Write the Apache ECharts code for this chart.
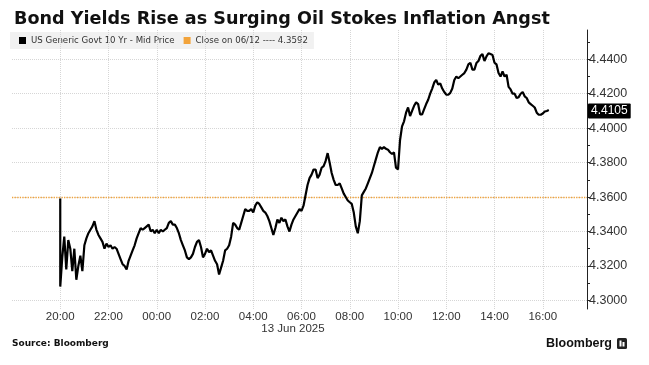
<!DOCTYPE html>
<html><head><meta charset="utf-8">
<script src="https://cdn.jsdelivr.net/npm/echarts@6/dist/echarts.min.js"></script>
<style>html,body{margin:0;padding:0;background:#fff}#c{width:649px;height:365px}</style>
</head><body><div id="c"></div>
<script>
const titleText = 'Bond Yields Rise as Surging Oil Stokes Inflation Angst';
const seriesName = 'US Generic Govt 10 Yr - Mid Price';
const closeName = 'Close on 06/12 ---- 4.3592';
const prevClose = 4.3592;
const lastValue = 4.4105;
const yLabelValues = [4.30, 4.32, 4.34, 4.36, 4.38, 4.40, 4.42, 4.44];
const yTickValues = [4.30, 4.31, 4.32, 4.33, 4.34, 4.35, 4.36, 4.37, 4.38, 4.39, 4.40, 4.41, 4.42, 4.43, 4.44, 4.45];
const xGridHours = ['06-12 20:00', '06-12 22:00', '06-13 00:00', '06-13 02:00', '06-13 04:00', '06-13 06:00', '06-13 08:00', '06-13 10:00', '06-13 12:00', '06-13 14:00', '06-13 16:00'];
const dateCaption = '13 Jun 2025';
const sourceText = 'Source: Bloomberg';
const startTime = '06-12 20:00';
const stepMinutes = 5;
// 5-minute prints from 20:00 (12 Jun) to 16:15 (13 Jun)
const yields = [
4.308,4.325,4.337,4.318,4.335,4.330,4.317,4.330,4.312,4.320,4.326,4.317,
4.332,4.336,4.339,4.341,4.343,4.346,4.341,4.338,4.336,4.334,4.330,4.333,
4.331,4.332,4.330,4.331,4.330,4.327,4.324,4.321,4.320,4.318,4.323,4.326,
4.329,4.332,4.336,4.339,4.342,4.341,4.342,4.343,4.344,4.340,4.341,4.339,
4.341,4.339,4.341,4.340,4.341,4.342,4.345,4.346,4.344,4.344,4.342,4.339,
4.335,4.332,4.329,4.325,4.324,4.325,4.327,4.331,4.334,4.335,4.331,4.325,
4.327,4.330,4.328,4.329,4.326,4.323,4.321,4.315,4.319,4.323,4.329,4.330,
4.332,4.337,4.345,4.344,4.342,4.341,4.345,4.349,4.353,4.352,4.352,4.353,
4.351,4.355,4.357,4.356,4.354,4.352,4.351,4.349,4.346,4.342,4.338,4.342,
4.347,4.345,4.348,4.346,4.347,4.343,4.340,4.344,4.347,4.349,4.351,4.353,
4.352,4.355,4.361,4.367,4.371,4.373,4.376,4.376,4.371,4.373,4.377,4.378,
4.381,4.3855,4.380,4.374,4.370,4.367,4.367,4.368,4.365,4.362,4.360,4.358,
4.357,4.356,4.351,4.343,4.339,4.346,4.361,4.363,4.365,4.368,4.371,4.374,
4.378,4.382,4.386,4.389,4.388,4.389,4.388,4.3875,4.386,4.385,4.386,4.377,
4.376,4.393,4.401,4.404,4.409,4.412,4.407,4.410,4.413,4.415,4.414,4.408,
4.408,4.411,4.414,4.4165,4.420,4.423,4.4265,4.428,4.4253,4.426,4.423,4.421,
4.4195,4.4194,4.4205,4.423,4.428,4.430,4.429,4.430,4.431,4.432,4.434,4.437,
4.438,4.434,4.434,4.4378,4.439,4.442,4.443,4.439,4.4417,4.4435,4.443,4.4425,
4.438,4.437,4.432,4.430,4.433,4.430,4.431,4.424,4.4225,4.420,4.420,4.4175,
4.418,4.420,4.421,4.4185,4.4175,4.415,4.414,4.413,4.412,4.409,4.4078,4.4078,
4.4085,4.4097,4.410,4.4105
];

function ts(s) { // 'MM-DD HH:mm' in 2025
  const [d, t] = s.split(' ');
  const [mo, da] = d.split('-').map(Number);
  const [h, mi] = t.split(':').map(Number);
  return new Date(2025, mo - 1, da, h, mi).getTime();
}
const t0 = ts(startTime);
const seriesData = [[t0, prevClose]].concat(yields.map((v, i) => [t0 + i * stepMinutes * 60000, v]));
const xMin = ts('06-12 18:00');
const xMax = ts('06-13 17:50');
const font = 'Liberation Sans';
const gridColor = '#d6d6d6';

const chart = echarts.init(document.getElementById('c'), null, {renderer: 'canvas'});
chart.setOption({
  animation: false,
  backgroundColor: '#fff',
  textStyle: {fontFamily: font},
  title: {text: titleText, left: 9, top: 5,
    textStyle: {fontSize: 17.6, fontWeight: 'bold', color: '#111', fontFamily: 'DejaVu Sans'}},
  legend: {
    left: 10, top: 32, padding: [4, 6, 4, 9], itemGap: 9,
    icon: 'rect', itemWidth: 7, itemHeight: 7,
    backgroundColor: '#f1f1f1',
    textStyle: {fontSize: 8.6, color: '#333', fontFamily: 'DejaVu Sans'},
    data: [seriesName, closeName]
  },
  grid: {left: 12, right: 62, top: 30, bottom: 56, containLabel: false},
  xAxis: {
    type: 'time', min: xMin, max: xMax,
    minInterval: 7200000, maxInterval: 7200000,
    axisLine: {show: false}, axisTick: {show: false}, splitLine: {show: false},
    axisLabel: {
      color: '#333', fontSize: 11.5, margin: 2, fontFamily: font,
      showMinLabel: false, showMaxLabel: false,
      formatter: function (v) {
        const d = new Date(v);
        if (d.getMinutes() !== 0 || d.getHours() % 2 !== 0 || v <= xMin || v >= xMax) return '';
        return String(d.getHours()).padStart(2, '0') + ':00';
      }
    }
  },
  yAxis: {
    type: 'value', position: 'right', min: 4.295, max: 4.457, scale: true,
    axisLine: {show: true, lineStyle: {color: '#222', width: 1}},
    axisTick: {show: true, customValues: yTickValues, length: 3, lineStyle: {color: '#222'}},
    axisLabel: {customValues: yLabelValues, color: '#333', fontSize: 12.5, margin: 2, fontFamily: font,
      formatter: v => v.toFixed(4)},
    splitLine: {show: false}
  },
  series: [
    {
      name: seriesName, type: 'line', showSymbol: false, symbol: 'none',
      data: seriesData, sampling: null,
      itemStyle: {color: '#000'},
      lineStyle: {color: '#000', width: 2.2},
      z: 5,
      markLine: {
        silent: true, symbol: 'none', animation: false,
        label: {show: false},
        data: yLabelValues.map(v => ({yAxis: v, lineStyle: {color: gridColor, type: 'dotted', width: 1}}))
          .concat(xGridHours.map(s => ({xAxis: ts(s), lineStyle: {color: gridColor, type: 'dotted', width: 1}})))
          .concat([{yAxis: prevClose, lineStyle: {color: '#f2a33a', type: 'dotted', width: 1.3}}])
          .concat([{yAxis: lastValue, lineStyle: {color: 'rgba(0,0,0,0)', width: 1},
            label: {show: true, position: 'end', distance: 1, formatter: lastValue.toFixed(4),
              backgroundColor: '#000', color: '#fff', fontSize: 12, fontFamily: font,
              padding: [2, 3, 1, 3], borderRadius: 1}}])
      }
    },
    {
      name: closeName, type: 'line', data: [], showSymbol: false,
      itemStyle: {color: '#f2a33a'}, lineStyle: {color: '#f2a33a'}
    }
  ],
  graphic: [
    {type: 'text', x: 293, y: 329, style: {text: dateCaption, fill: '#333', font: '11.5px ' + font, align: 'center', verticalAlign: 'middle'}},
    {type: 'text', x: 12, y: 344, style: {text: sourceText, fill: '#111', font: 'bold 9px "DejaVu Sans"', align: 'left', verticalAlign: 'middle'}},
    {type: 'text', x: 612, y: 344, style: {text: 'Bloomberg', fill: '#111', font: 'bold 12.5px ' + font, align: 'right', verticalAlign: 'middle'}},
    {type: 'rect', shape: {x: 617, y: 338, width: 10, height: 11, r: 1.5}, style: {fill: '#222'}},
    {type: 'rect', shape: {x: 619.5, y: 340.5, width: 2, height: 6}, style: {fill: '#fff'}},
    {type: 'rect', shape: {x: 622.5, y: 342, width: 2, height: 4.5}, style: {fill: '#fff'}}
  ]
});
</script>
</body></html>
